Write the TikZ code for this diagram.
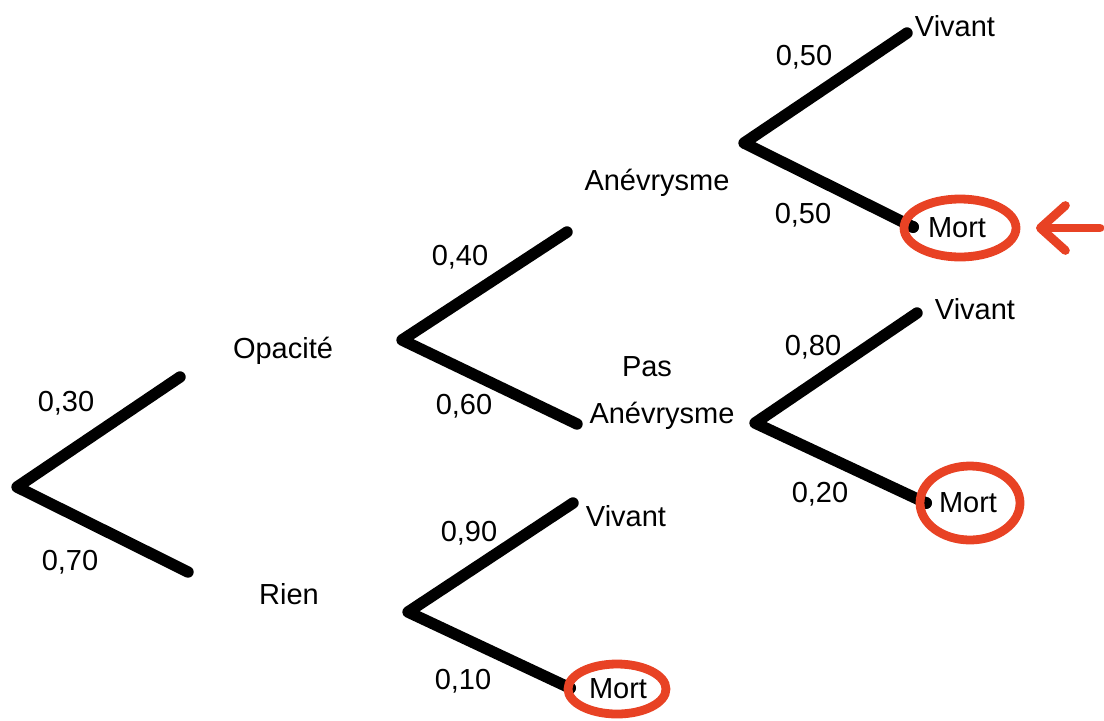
\documentclass[tikz,border=0pt]{standalone}
\usepackage{fontspec}
\usepackage{tikz}
\usetikzlibrary{arrows.meta}
\setmainfont{Liberation Sans}
\definecolor{rouge}{rgb}{0.91,0.26,0.14}
\tikzset{
  branche/.style={line width=6.5pt,line cap=round,line join=round},
  cercle/.style={rouge,line width=5pt},
  lab/.style={font=\fontsize{16.5}{19}\selectfont}
}

\begin{document}
\begin{tikzpicture}[x=0.02cm,y=-0.02cm]
	\useasboundingbox (0,0) rectangle (1104,720);
	% sommets
	\coordinate (r) at (17,487);
	\coordinate (op) at (402,340);
	\coordinate (ri) at (408,612);
	\coordinate (an) at (744,143);
	\coordinate (pa) at (755,423);
	% extremites
	\coordinate (r1) at (180,377);
	\coordinate (r2) at (188,572);
	\coordinate (op1) at (567,232);
	\coordinate (op2) at (577,424);
	\coordinate (ri1) at (573,503);
	\coordinate (ri2) at (570,688);
	\coordinate (an1) at (907,33);
	\coordinate (an2) at (913,227);
	\coordinate (pa1) at (917,313);
	\coordinate (pa2) at (926,503);

	\draw[branche] (r1) -- (r) -- (r2);
	\draw[branche] (op1) -- (op) -- (op2);
	\draw[branche] (ri1) -- (ri) -- (ri2);
	\draw[branche] (an1) -- (an) -- (an2);
	\draw[branche] (pa1) -- (pa) -- (pa2);
	\fill (ri2) circle (6);
	\fill (an2) circle (6);
	\fill (pa2) circle (6);

	\node[lab] (p30) at (66,403) {0,30};
	\node[lab] (p70) at (70,562) {0,70};
	\node[lab] (opacite) at (283,351) {Opacité};
	\node[lab] (rien) at (289,594) {Rien};
	\node[lab] (p40) at (460,257) {0,40};
	\node[lab] (p60) at (464,406) {0,60};
	\node[lab] (anevr) at (657,183) {Anévrysme};
	\node[lab] (pas) at (647,367) {Pas};
	\node[lab] (pasanevr) at (662,416) {Anévrysme};
	\node[lab] (p90) at (469,533) {0,90};
	\node[lab] (viv3) at (626,516) {Vivant};
	\node[lab] (p10) at (463,681) {0,10};
	\node[lab] (mort3) at (618,689) {Mort};
	\node[lab] (p50a) at (804,57) {0,50};
	\node[lab] (viv1) at (955,26) {Vivant};
	\node[lab] (p50b) at (803,215) {0,50};
	\node[lab] (mort1) at (957,228) {Mort};
	\node[lab] (p80) at (813,347) {0,80};
	\node[lab] (viv2) at (975,309) {Vivant};
	\node[lab] (p20) at (820,494) {0,20};
	\node[lab] (mort2) at (968,503) {Mort};

	% les morts
	\draw[cercle] (mort1.center) ++(3,0) ellipse (56 and 29);
	\draw[cercle] (mort2.center) ++(2,0) ellipse (50 and 37);
	\draw[cercle] (mort3.center) ++(-1,0) ellipse (49 and 25);
	\coordinate (fl) at (1100,228);
	\coordinate (fl2) at (1036,228);
	\draw[rouge,line width=5pt,line cap=round,-{Straight Barb[length=5mm,width=9mm,round]}] (fl) -- (fl2);
\end{tikzpicture}
\end{document}
